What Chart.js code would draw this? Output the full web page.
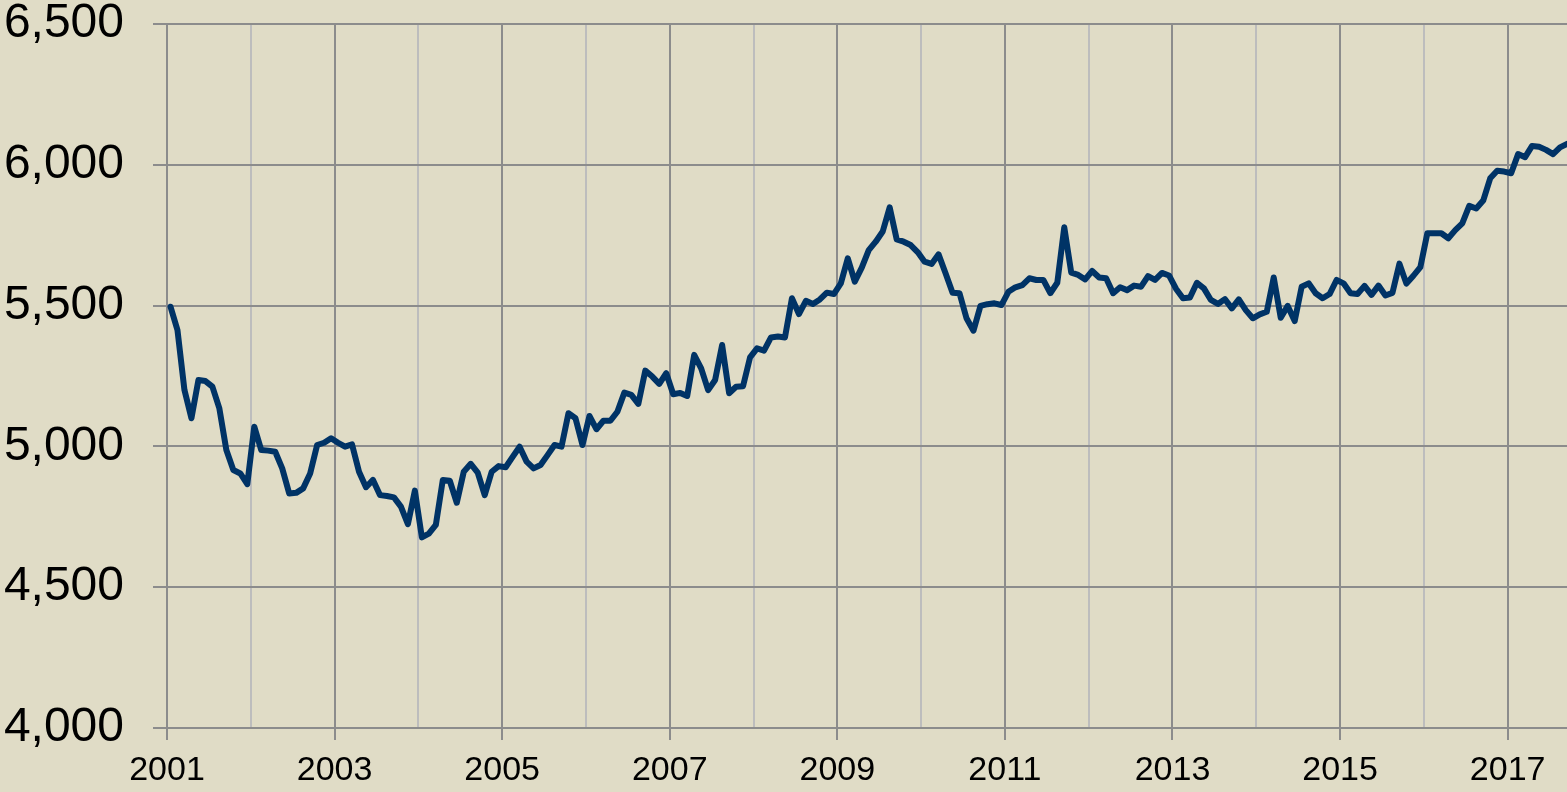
<!DOCTYPE html>
<html>
<head>
<meta charset="utf-8">
<script src="https://cdn.jsdelivr.net/npm/chart.js@4.4.1/dist/chart.umd.min.js"></script>
<style>
  html, body { margin: 0; padding: 0; background: #e0dcc6; }
  canvas { display: block; }
</style>
</head>
<body>
<canvas id="chart" width="1567" height="792"></canvas>
<script>
// monthly values, Jan 2001 .. Sep 2017
const startYear = 2001;
const values = [
  5496, 5413, 5200, 5100, 5236, 5232, 5212, 5135, 4987, 4916, 4904, 4866, // 2001
  5070, 4987, 4985, 4981, 4922, 4833, 4835, 4851, 4904, 5005, 5013, 5029, // 2002
  5013, 4999, 5007, 4910, 4855, 4881, 4827, 4824, 4819, 4786, 4724, 4843, // 2003
  4677, 4690, 4721, 4881, 4878, 4800, 4910, 4938, 4907, 4827, 4910, 4930, // 2004
  4926, 4963, 4999, 4946, 4922, 4934, 4969, 5005, 4999, 5118, 5100, 5005, // 2005
  5108, 5061, 5091, 5091, 5123, 5191, 5183, 5151, 5269, 5248, 5222, 5260, // 2006
  5185, 5190, 5179, 5325, 5277, 5200, 5236, 5360, 5189, 5212, 5214, 5316, // 2007
  5348, 5340, 5387, 5390, 5387, 5526, 5470, 5517, 5506, 5522, 5546, 5541, // 2008
  5579, 5668, 5585, 5635, 5697, 5727, 5763, 5849, 5735, 5727, 5715, 5690, // 2009
  5656, 5648, 5682, 5615, 5546, 5544, 5455, 5411, 5499, 5505, 5508, 5502, // 2010
  5549, 5565, 5573, 5597, 5591, 5591, 5544, 5581, 5778, 5617, 5609, 5593, // 2011
  5623, 5600, 5597, 5544, 5565, 5555, 5571, 5567, 5605, 5591, 5616, 5607, // 2012
  5560, 5526, 5529, 5581, 5561, 5520, 5506, 5523, 5490, 5522, 5484, 5455, // 2013
  5469, 5478, 5600, 5457, 5499, 5445, 5567, 5579, 5544, 5526, 5541, 5591, // 2014
  5579, 5544, 5541, 5570, 5538, 5571, 5536, 5545, 5649, 5578, 5606, 5637, // 2015
  5757, 5757, 5757, 5739, 5768, 5792, 5854, 5845, 5873, 5952, 5979, 5976, // 2016
  5970, 6038, 6027, 6067, 6064, 6053, 6038, 6062, 6074                   // 2017
];
const yearTicks = [2001, 2002, 2003, 2004, 2005, 2006, 2007, 2008, 2009,
                   2010, 2011, 2012, 2013, 2014, 2015, 2016, 2017];
const yTicks = [4000, 4500, 5000, 5500, 6000, 6500];

const darkGrid = "#8c8c8c";
const lightGrid = "#bdbdbd";

// each month sits in the middle of its month on the time axis
const points = values.map((v, i) => ({ x: startYear + (i + 0.5) / 12, y: v }));

// drop the room chart.js keeps for half-labels, the layout padding does it
const noOverhang = scale => {
  scale.paddingTop = 0;
  scale.paddingBottom = 0;
  scale.paddingLeft = 0;
  scale.paddingRight = 0;
};

new Chart(document.getElementById("chart").getContext("2d"), {
  type: "line",
  data: {
    datasets: [{
      data: points,
      borderColor: "#003366",
      borderWidth: 6,
      pointRadius: 0,
      tension: 0,
      borderJoinStyle: "round",
      borderCapStyle: "round"
    }]
  },
  options: {
    responsive: false,
    animation: false,
    devicePixelRatio: 1,
    layout: { padding: { top: 24, right: 0, left: 0, bottom: 0 } },
    plugins: {
      legend: { display: false },
      tooltip: { enabled: false }
    },
    scales: {
      x: {
        type: "linear",
        min: startYear,
        max: startYear + (values.length - 0.5) / 12,
        afterBuildTicks: axis => { axis.ticks = yearTicks.map(v => ({ value: v })); },
        afterFit: scale => { scale.height = 64; noOverhang(scale); },
        ticks: {
          autoSkip: false,
          maxRotation: 0,
          padding: 10,
          color: "#000",
          font: { family: "'Liberation Sans', Arial, sans-serif", size: 34 },
          callback: v => (v % 2 === 1 ? String(v) : "")
        },
        grid: {
          color: ctx => (ctx.tick && ctx.tick.value % 2 === 1 ? darkGrid : lightGrid),
          tickColor: ctx => (ctx.tick && ctx.tick.value % 2 === 1 ? darkGrid : "rgba(0,0,0,0)"),
          tickLength: 12,
          lineWidth: 2
        },
        border: { color: darkGrid, width: 2 }
      },
      y: {
        min: 4000,
        max: 6500,
        afterBuildTicks: axis => { axis.ticks = yTicks.map(v => ({ value: v })); },
        afterFit: scale => { scale.width = 167; noOverhang(scale); },
        ticks: {
          padding: 29,
          color: "#000",
          font: { family: "'Liberation Sans', Arial, sans-serif", size: 48 },
          callback: v => v.toLocaleString("en-US")
        },
        grid: {
          color: darkGrid,
          tickColor: darkGrid,
          tickLength: 14,
          lineWidth: 2
        },
        border: { color: darkGrid, width: 2 }
      }
    }
  }
});
</script>
</body>
</html>
